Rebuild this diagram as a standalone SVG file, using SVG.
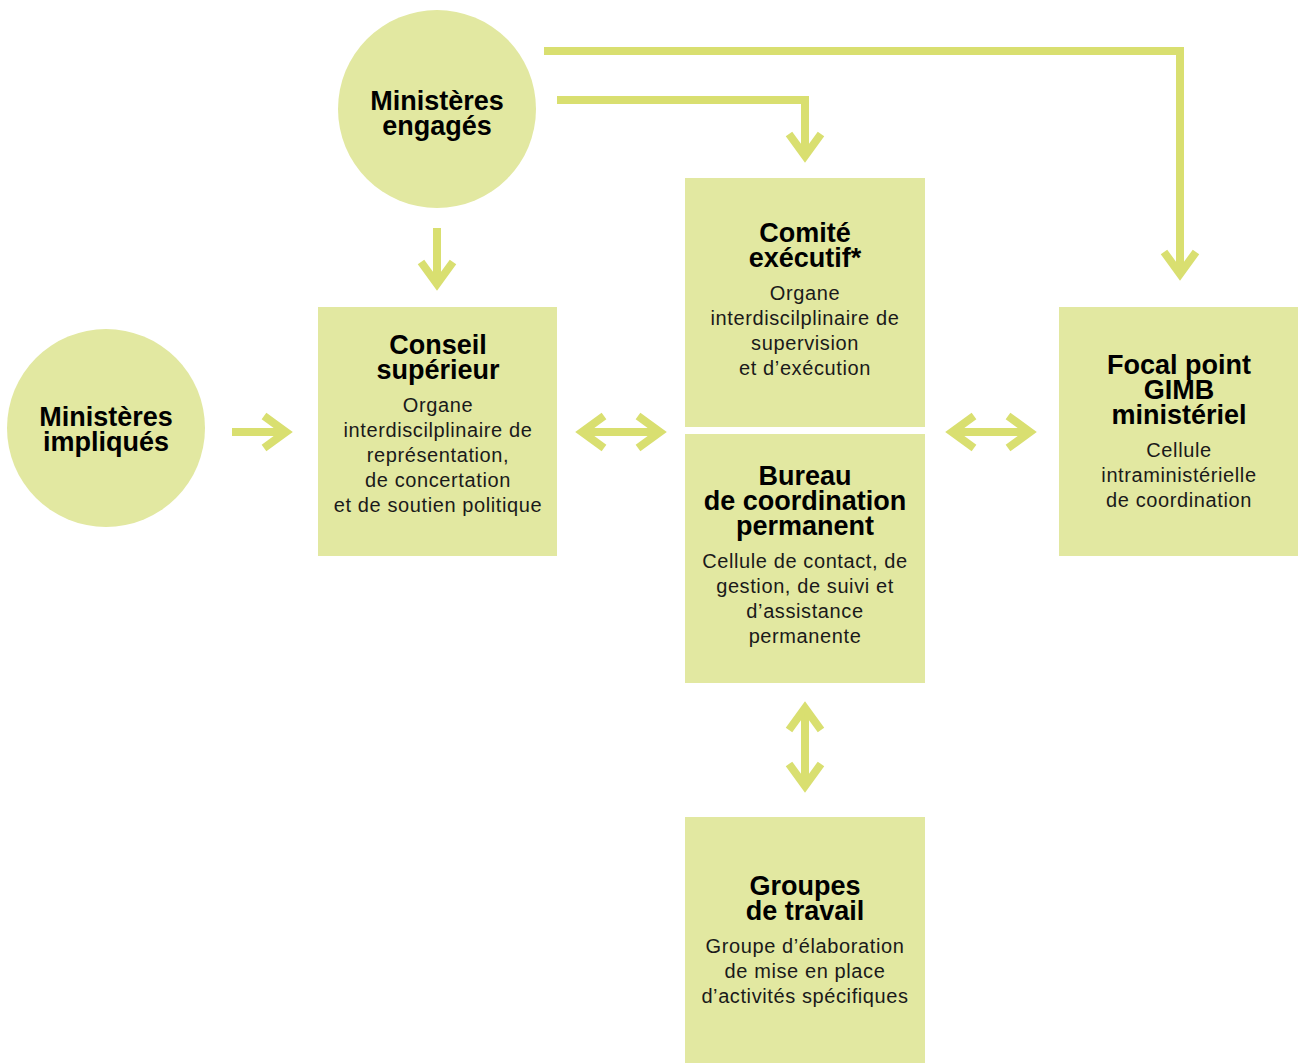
<svg xmlns="http://www.w3.org/2000/svg" width="1298" height="1063" viewBox="0 0 1298 1063">
<style>
.node{fill:#e2e8a1}
.t{font-family:"Liberation Sans",Arial,sans-serif;font-weight:bold;font-size:27px;fill:#000;text-anchor:middle}
.b{font-family:"Liberation Sans",Arial,sans-serif;font-size:20px;letter-spacing:0.6px;fill:#1a1a1a;text-anchor:middle}
.c{fill:none;stroke:#d9df70;stroke-width:8;stroke-linejoin:miter;stroke-linecap:butt}
</style>
<rect width="1298" height="1063" fill="#fff"/>
<g id="connectors" class="c">
  <polyline points="544,51 1180,51 1180,270"/>
  <polyline points="1164,252 1180,274 1196,252"/>
  <polyline points="557,100 805,100 805,152"/>
  <polyline points="789,134 805,156 821,134"/>
  <line x1="437" y1="228" x2="437" y2="280"/>
  <polyline points="421,262 437,284 453,262"/>
  <line x1="232" y1="432" x2="282" y2="432"/>
  <polyline points="264,416 286,432 264,448"/>
  <line x1="588" y1="432" x2="654" y2="432"/>
  <polyline points="604,416 582,432 604,448"/>
  <polyline points="638,416 660,432 638,448"/>
  <line x1="958" y1="432" x2="1024" y2="432"/>
  <polyline points="974,416 952,432 974,448"/>
  <polyline points="1008,416 1030,432 1008,448"/>
  <line x1="805" y1="714" x2="805" y2="780"/>
  <polyline points="789,730 805,708 821,730"/>
  <polyline points="789,764 805,786 821,764"/>
</g>
<g id="ministeres-engages">
  <circle class="node" cx="437" cy="109" r="99"/>
  <text class="t" x="437" y="110">Ministères</text>
  <text class="t" x="437" y="135">engagés</text>
</g>
<g id="ministeres-impliques">
  <circle class="node" cx="106" cy="428" r="99"/>
  <text class="t" x="106" y="426">Ministères</text>
  <text class="t" x="106" y="451">impliqués</text>
</g>
<g id="conseil-superieur">
  <rect class="node" x="318" y="307" width="239" height="249"/>
  <text class="t" x="438" y="354">Conseil</text>
  <text class="t" x="438" y="379">supérieur</text>
  <text class="b" x="438" y="412">Organe</text>
  <text class="b" x="438" y="437">interdiscilplinaire de</text>
  <text class="b" x="438" y="462">représentation,</text>
  <text class="b" x="438" y="487">de concertation</text>
  <text class="b" x="438" y="512">et de soutien politique</text>
</g>
<g id="comite-executif">
  <rect class="node" x="685" y="178" width="240" height="249"/>
  <text class="t" x="805" y="242">Comité</text>
  <text class="t" x="805" y="267">exécutif*</text>
  <text class="b" x="805" y="300">Organe</text>
  <text class="b" x="805" y="325">interdiscilplinaire de</text>
  <text class="b" x="805" y="350">supervision</text>
  <text class="b" x="805" y="375">et d’exécution</text>
</g>
<g id="bureau-coordination">
  <rect class="node" x="685" y="434" width="240" height="249"/>
  <text class="t" x="805" y="485">Bureau</text>
  <text class="t" x="805" y="510">de coordination</text>
  <text class="t" x="805" y="535">permanent</text>
  <text class="b" x="805" y="568">Cellule de contact, de</text>
  <text class="b" x="805" y="593">gestion, de suivi et</text>
  <text class="b" x="805" y="618">d’assistance</text>
  <text class="b" x="805" y="643">permanente</text>
</g>
<g id="focal-point">
  <rect class="node" x="1059" y="307" width="239" height="249"/>
  <text class="t" x="1179" y="374">Focal point</text>
  <text class="t" x="1179" y="399">GIMB</text>
  <text class="t" x="1179" y="424">ministériel</text>
  <text class="b" x="1179" y="457">Cellule</text>
  <text class="b" x="1179" y="482">intraministérielle</text>
  <text class="b" x="1179" y="507">de coordination</text>
</g>
<g id="groupes-travail">
  <rect class="node" x="685" y="817" width="240" height="246"/>
  <text class="t" x="805" y="895">Groupes</text>
  <text class="t" x="805" y="920">de travail</text>
  <text class="b" x="805" y="953">Groupe d’élaboration</text>
  <text class="b" x="805" y="978">de mise en place</text>
  <text class="b" x="805" y="1003">d’activités spécifiques</text>
</g>
</svg>
